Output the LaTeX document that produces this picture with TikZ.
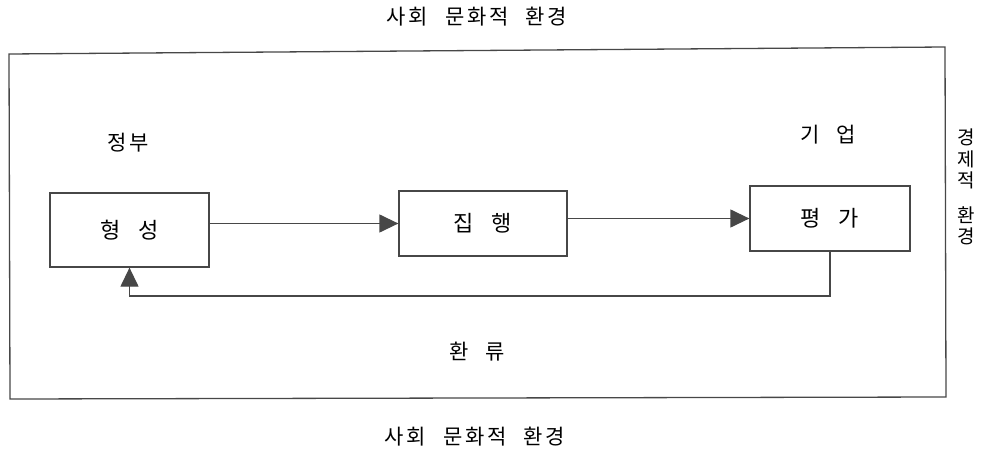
\documentclass[tikz,border=0pt]{standalone}
\usepackage{fontspec}
\newfontfamily\kr[LetterSpace=14,WordSpace=2.2]{Noto Sans CJK KR}
\usetikzlibrary{arrows.meta}
\begin{document}
\begin{tikzpicture}[x=1pt,y=1pt,
  ln/.style={draw=black!72,line width=1.3pt},
  boxn/.style={ln,rectangle,inner sep=0pt,font=\kr\fontsize{22}{24}\selectfont},
  lbl/.style={font=\kr\fontsize{21}{24}\selectfont,inner sep=0pt},
  arr/.style={ln,-{Triangle[length=19pt,width=18pt]}}]
\useasboundingbox (0,0) rectangle (988,451);
% outer frame
\draw[ln] (9,397) -- (945,404) -- (946,54) -- (10,52) -- cycle;
% texts
\node[lbl] (top) at (477,434) {사회 문화적 환경};
\node[lbl] (bot) at (475,14) {사회 문화적 환경};
\node[lbl,align=center,font=\kr\fontsize{19}{21.5}\selectfont] (econ) at (966,264) {경\\제\\적\\[13pt]환\\경};
\node[lbl] (gov) at (128,308) {정부};
\node[lbl] (biz) at (828,316) {기 업};
\node[lbl] (fbl) at (477,99) {환 류};
% boxes
\node[boxn,minimum width=159pt,minimum height=74pt] (hs) at (129.5,221) {형 성};
\node[boxn,minimum width=168pt,minimum height=65pt] (jh) at (483,227.5) {집 행};
\node[boxn,minimum width=160pt,minimum height=65pt] (pg) at (830,232.5) {평 가};
% connectors
\coordinate (fb) at (0,155);
\draw[arr] (hs.east |- jh.west) -- (jh.west);
\draw[arr] (jh.east |- pg.west) -- (pg.west);
\draw[arr] (pg.south) |- (hs.south |- fb) -- (hs.south);
\end{tikzpicture}
\end{document}
